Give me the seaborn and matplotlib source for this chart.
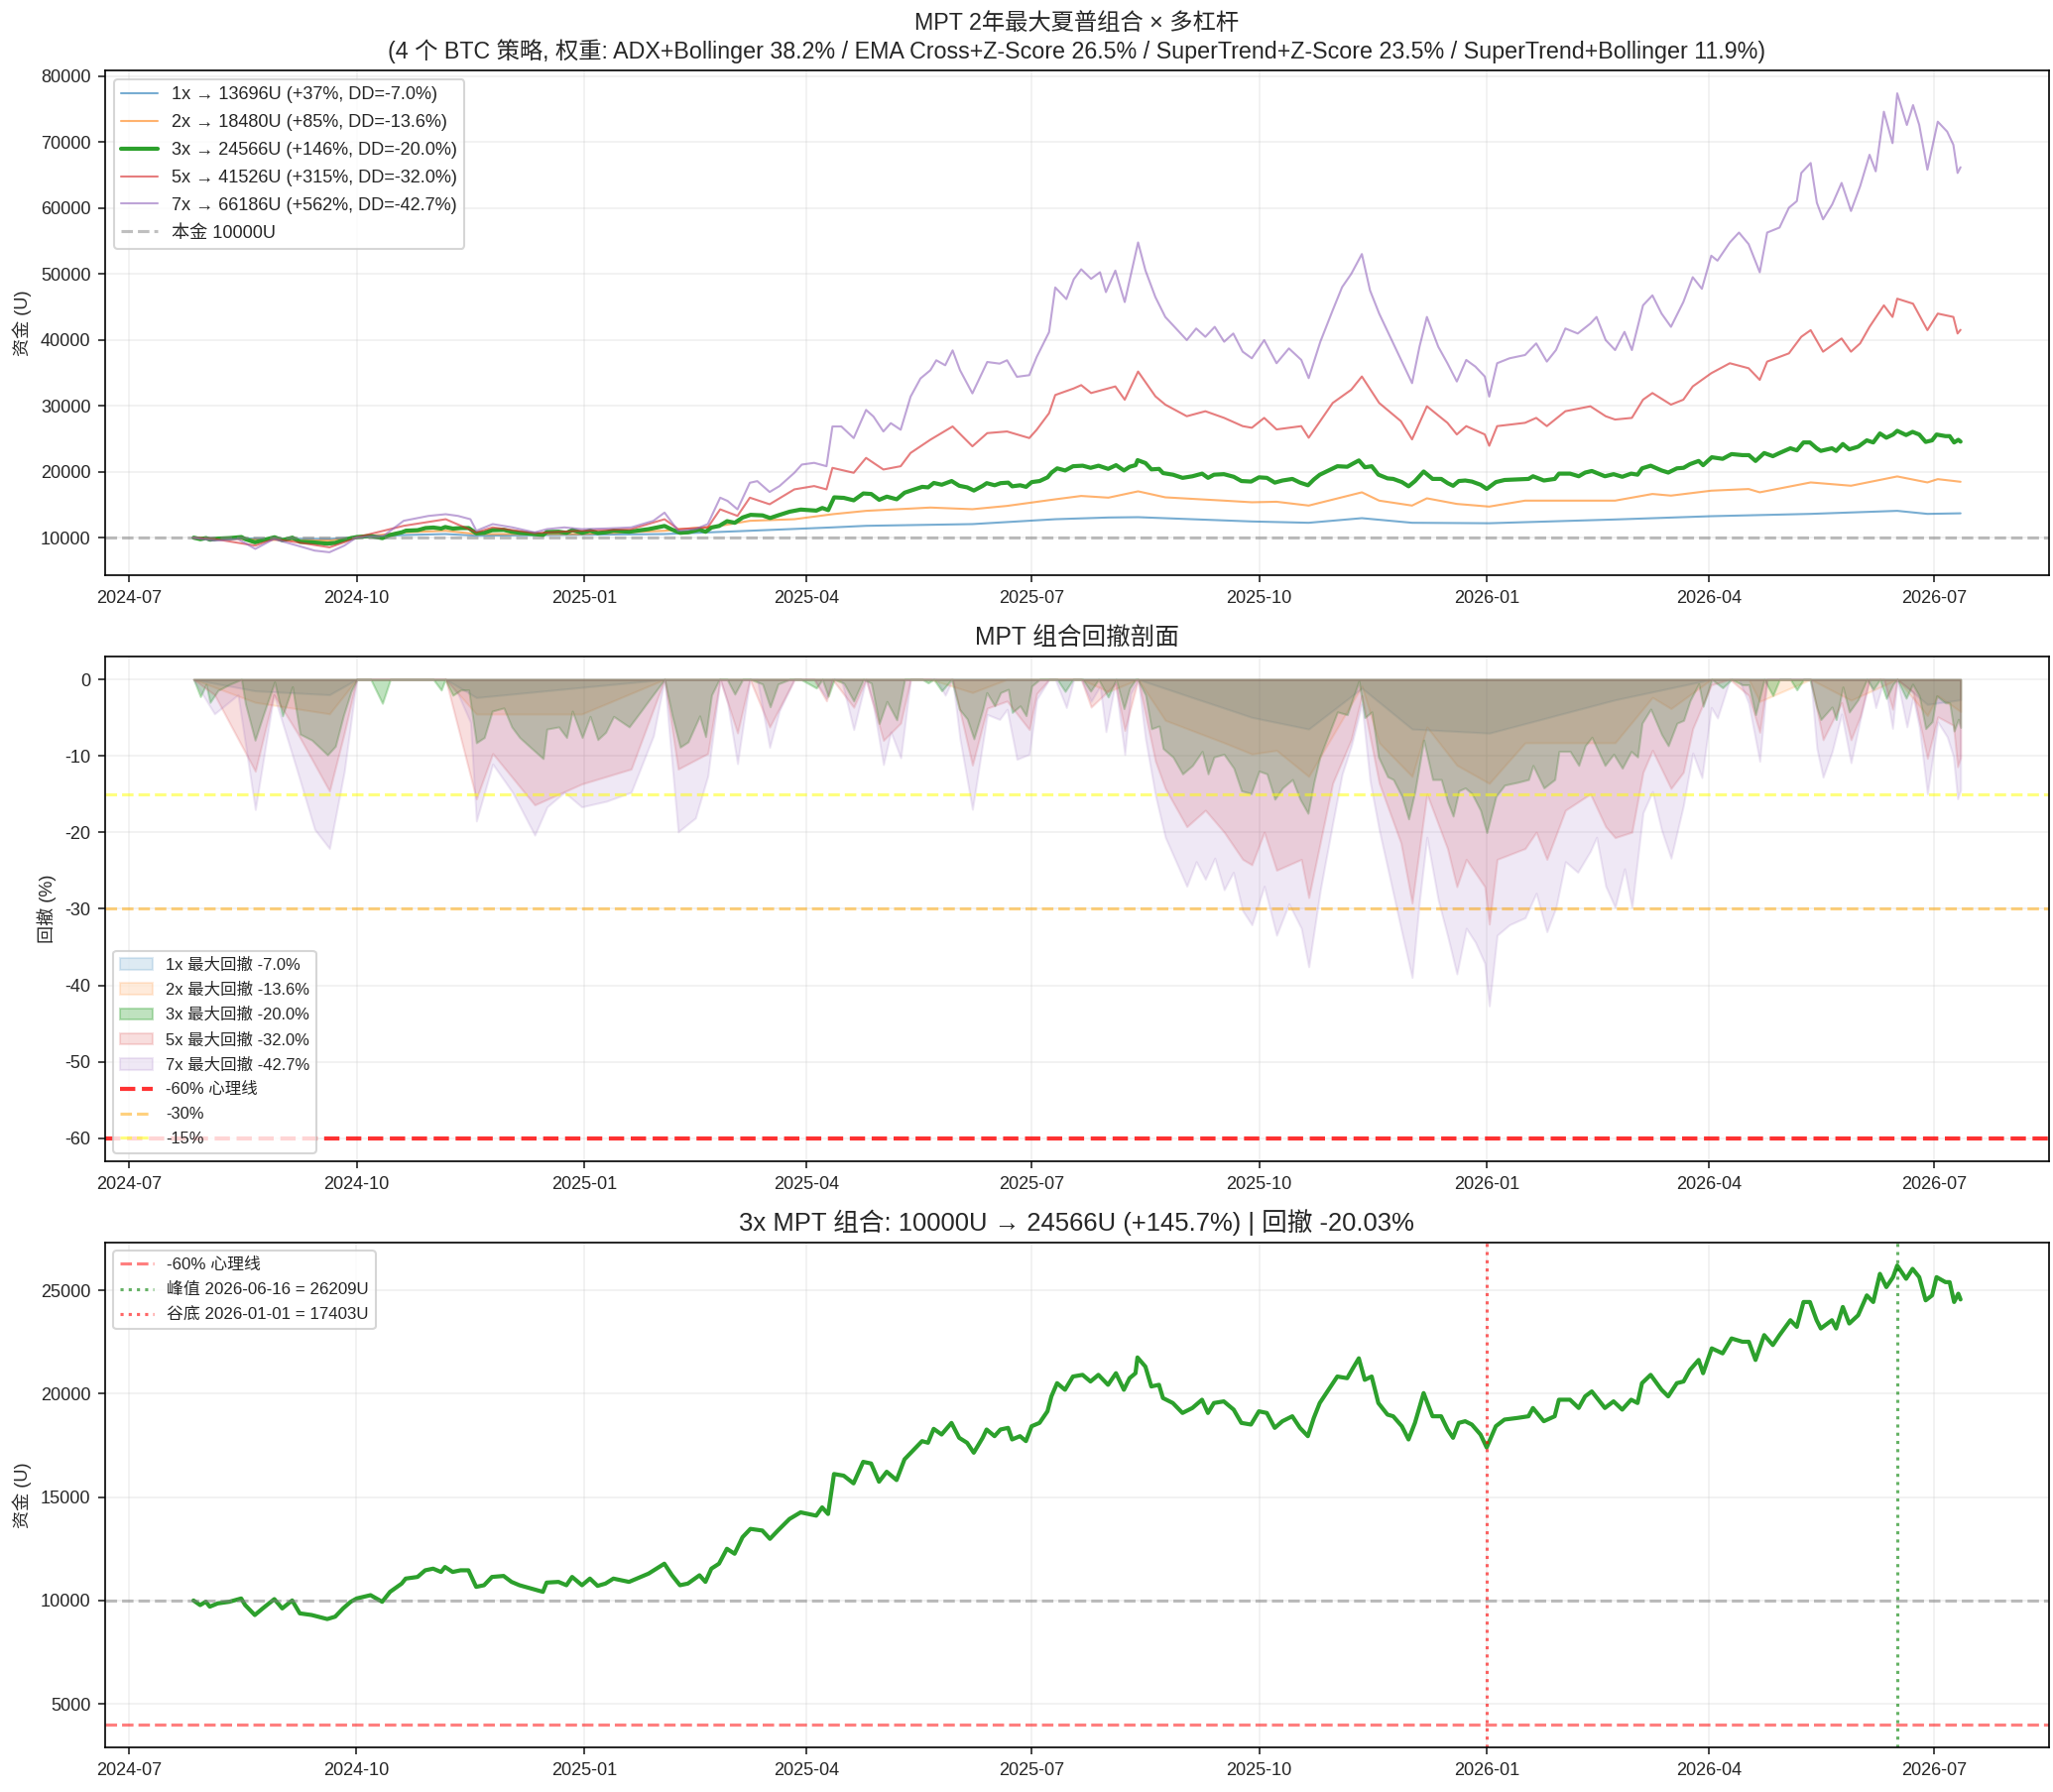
import numpy as np
import pandas as pd
import seaborn as sns
import matplotlib
matplotlib.use("Agg")
import matplotlib.pyplot as plt

sns.set_style("ticks")
plt.rcParams["font.family"] = ["Liberation Sans", "Noto Sans CJK SC", "DejaVu Sans"]
plt.rcParams["axes.unicode_minus"] = False
plt.rcParams["font.size"] = 8.7

# ---------- DATA ----------
START = pd.Timestamp("2024-07-01")   # day offsets below count from here

levs = [1, 2, 3, 5, 7]
finals = [13696, 18480, 24566, 41526, 66186]
rets = [37, 85, 146, 315, 562]
max_dds = [-7.0, -13.6, -20.0, -32.0, -42.7]
colors = ["C0", "C1", "C2", "C3", "C4"]

days_1x = [26, 51, 81, 92, 111, 128, 140.4, 216.5, 251, 284.4, 298, 341, 374.5, 396, 408,
           454, 477, 498.5, 518.8, 550, 600.9, 639.8, 680, 715, 727.2, 740.6]
eq_1x = [10000, 9850, 9800, 10050, 10400, 10550, 10300, 10550, 11050, 11560, 11800, 12060,
         12800, 13060, 13110, 12460, 12260, 12960, 12260, 12190, 12760, 13260, 13610, 14070,
         13610, 13696]

days_2x = [26, 51, 81, 92, 111, 128, 140.4, 183, 216.5, 239, 251, 269, 284.4, 298, 324, 341,
           355, 374.5, 385, 396, 408, 419, 442.8, 454, 464, 477, 498.5, 505.5, 518.8, 524.8,
           536.9, 550, 564.5, 580.8, 600.9, 616, 623.5, 639.8, 654.9, 659.4, 680, 696.3, 715,
           727.2, 731.4, 740.6]
eq_2x = [10000, 9700, 9550, 10050, 10800, 11050, 10550, 10550, 11050, 11800, 12560, 12800,
         13560, 14070, 14570, 14320, 14820, 15820, 16330, 16070, 17030, 16120, 15620, 15370,
         15450, 14870, 16880, 15620, 14870, 15970, 15120, 14715, 15620, 15620, 15620, 16630,
         16380, 17130, 17380, 16880, 18380, 17880, 19290, 18380, 18880, 18480]

days_3x = [26.1, 28.8, 31.1, 32.7, 35.9, 40.6, 45.4, 47.0, 50.9, 54.1, 58.8, 62.0, 66.0, 69.1,
           73.9, 80.2, 83.4, 86.6, 89.7, 92.1, 97.7, 102.4, 105.6, 110.3, 111.9, 116.7, 119.8,
           123.0, 126.2, 127.8, 130.9, 134.1, 137.3, 140.4, 143.6, 146.8, 151.5, 154.7, 157.9,
           162.6, 167.4, 168.9, 173.7, 176.9, 179.2, 183.2, 186.4, 189.5, 192.7, 195.9, 202.2,
           207.0, 210.1, 216.5, 219.6, 222.8, 226.0, 230.7, 233.1, 235.5, 238.6, 241.8, 244.9,
           248.1, 251.3, 256.1, 259.2, 262.4, 267.1,
           271.6, 274.8, 277.9, 280.3, 282.7, 285.1, 289.0, 293.0, 296.9, 300.1, 303.3, 306.4,
           310.4, 313.6, 317.5, 320.7, 323.1, 325.4, 328.6, 332.6, 335.7, 338.9, 341.6, 345.2,
           346.8, 350.0, 352.4, 355.5, 357.1, 360.3, 362.7, 365.0, 368.2, 371.4, 373.0, 375.3,
           378.5, 381.7, 385.6, 388.8, 392.0, 395.9, 399.1, 402.3, 404.6, 407.0, 407.8, 411.0,
           413.4, 416.5, 418.1, 422.1, 426.0, 430.0, 433.9, 436.3, 438.7, 442.7, 446.7, 449.8,
           453.7, 456.9, 460.1, 463.3, 466.4, 470.4, 473.5, 476.7, 479.1, 481.5, 484.6, 488.6,
           492.6, 494.9, 497.3, 499.7, 502.5, 505.2, 508.9,
           511.2, 514.7, 517.4, 520.0, 523.5, 527.1, 530.6, 533.2, 535.4, 537.7, 540.3, 543.0,
           546.5, 549.0, 552.7, 556.2, 561.5, 565.9, 567.7, 572.1, 576.5, 578.2, 582.7, 586.2,
           588.8, 591.5, 596.8, 600.3, 603.8, 607.4, 610.0, 611.8, 615.3, 619.7, 622.4, 625.9,
           628.6, 631.2, 634.7, 636.5, 640.0, 644.4, 648.0, 652.4, 655.0, 657.7, 661.2, 664.7,
           667.4, 671.8, 674.4, 677.1, 679.7, 682.4, 684.1, 688.6, 690.3, 693.0, 695.6, 699.2,
           702.7, 705.3, 708.0, 710.6, 713.3, 715.0, 718.6, 721.2, 723.9, 726.5, 729.1, 730.9,
           734.5, 736.2, 738.0, 739.7, 740.6]
eq_3x = [10000, 9776, 9936, 9700, 9856, 9936, 10096, 9776, 9295, 9615, 10064, 9615, 10000, 9375,
         9295, 9100, 9215, 9615, 9936, 10096, 10256, 9936, 10417, 10817, 11058, 11138, 11459,
         11539, 11379, 11619, 11379, 11459, 11459, 10657, 10737, 11138, 11186, 10898, 10737,
         10577, 10417, 10865, 10898, 10737, 11138, 10737, 11058, 10705, 10817, 11058, 10898,
         11138, 11298, 11779, 11218, 10737, 10817, 11218, 10898, 11539, 11779, 12500, 12260,
         13061, 13463, 13383, 12981, 13383, 13943,
         14264, 14184, 14104, 14504, 14184, 16119, 16039, 15666, 16708, 16628, 15746, 16228,
         15826, 16829, 17310, 17711, 17631, 18304, 18031, 18592, 17871, 17631, 17149, 17871,
         18272, 17951, 18272, 18352, 17791, 17951, 17711, 18432, 18593, 19153, 19875, 20516,
         20195, 20837, 20917, 20596, 20917, 20436, 20997, 20195, 20756, 20997, 21760, 21317,
         20356, 20436, 19795, 19554, 19073, 19314, 19714, 19073, 19554, 19634, 19234, 18592,
         18512, 19153, 19073, 18352, 18673, 18913, 18352, 17951, 18833, 19554, 20115, 20837,
         20756, 21237, 21718, 20676, 20837, 19554, 18993,
         18913, 18432, 17791, 18593, 20035, 18913, 18913, 18272, 17871, 18593, 18673, 18512,
         18031, 17403, 18432, 18753, 18833, 18913, 19314, 18673, 18913, 19714, 19714, 19314,
         19875, 20115, 19314, 19634, 19234, 19714, 19554, 20516, 20917, 20195, 19875, 20516,
         20596, 21157, 21638, 20997, 22199, 21958, 22680, 22520, 22520, 21638, 22840, 22359,
         22840, 23562, 23241, 24443, 24443, 23562, 23161, 23562, 23161, 24203, 23402, 23802,
         24763, 24443, 25806, 25165, 25646, 26209, 25566, 26048, 25646, 24523, 24763, 25646,
         25405, 25405, 24443, 24844, 24566]

days_5x = [26, 34.5, 51, 58.5, 68, 81, 87, 92, 111, 128, 140.4, 147, 164, 183, 203, 216.5, 222,
           234, 239, 246, 251, 259, 269, 277, 282, 284.4, 293, 298, 305, 312, 316, 324, 333, 341,
           347, 355, 364, 367, 372, 374.5, 382, 385, 389, 398.8, 402.6, 408, 415, 419, 427.7,
           435.2, 442.8, 450.3, 454, 459, 464, 474, 477, 486.7, 494.2, 498.5, 505.5, 514.3,
           518.8, 524.8, 533.1, 536.9, 540.7, 548.2, 550, 553.2, 564.5, 569, 573.3, 580.8,
           590.9, 597.1, 600.9, 607.7, 612.2, 616, 623.5, 628.5, 632.3, 639.8, 647.3, 654.9,
           659.4, 662.4, 671.2, 676.2, 680, 685, 692.5, 696.3, 700, 703.8, 709.6, 713.1, 715,
           721.4, 727.2, 731.4, 737.7, 739.4, 740.6]
eq_5x = [10000, 9800, 8800, 9800, 9300, 8540, 9300, 10050, 11800, 12800, 10800, 11560, 10700,
         11050, 11300, 12800, 11300, 11560, 14300, 13300, 16070, 15070, 17330, 17830, 17330,
         20590, 19840, 22100, 20340, 20840, 22850, 24860, 26870, 23860, 25860, 26110, 25110,
         26370, 28880, 31640, 32640, 33140, 31940, 32940, 30930, 35200, 31440, 30180, 28420,
         29180, 28170, 26920, 26670, 28170, 26420, 26920, 25160, 30430, 32440, 34450, 30430,
         27670, 24910, 29930, 27420, 25660, 26920, 25660, 23940, 26920, 27420, 28170, 26920,
         29180, 29930, 28420, 27920, 28170, 30930, 31940, 30180, 30930, 32940, 34950, 36460,
         35700, 33940, 36710, 37960, 40470, 41480, 38210, 40220, 38210, 39470, 41980, 45240,
         43480, 46250, 45490, 41480, 43990, 43480, 40970, 41526]

days_7x = [26, 34.5, 44, 51, 58.5, 68, 75, 81, 87, 92, 103, 111, 121, 128, 133, 138, 140.4, 147,
           155, 164, 169, 176, 183, 193, 203, 212, 216.5, 222, 229, 234, 239, 242, 246, 251, 254,
           259, 263, 269, 272, 277, 282, 284.4, 288, 293, 298, 301, 305, 308, 312, 316, 320, 324,
           326.4, 330, 333, 336, 341, 347, 352, 355, 359, 364, 367, 372, 374.5, 379, 382, 385,
           389, 392.6, 395, 398.8, 402.6, 405, 408, 411, 415, 419, 424, 427.7, 431.5, 435.2, 439,
           442.8, 446.5, 450.3, 454, 459, 464, 469, 474, 477, 481.7, 486.7, 490.5, 494.2, 498.5,
           501.8, 505.5, 509.3, 514.3, 518.8, 521.8, 524.8, 529.4, 533.1, 536.9, 540.7, 544.4,
           548.2, 550, 553.2, 558.2, 564.5, 569, 573.3, 577, 580.8, 585.8, 590.9, 593.4, 597.1,
           600.9, 604.7, 607.7, 612.2, 616, 619.7, 623.5, 628.5, 632.3, 636, 639.8, 642.3,
           647.3, 651, 654.9, 659.4, 662.4, 667.4, 671.2, 674.4, 676.2, 680, 682.5, 685, 688.7,
           692.5, 696.3, 700, 703.8, 706.3, 709.6, 713.1, 715, 718.9, 721.4, 723.9, 727.2,
           731.4, 735.2, 737.7, 739.4, 740.6]
eq_7x = [10000, 9550, 9800, 8300, 9800, 8800, 8040, 7790, 8800, 10050, 10300, 12560, 13300,
         13560, 13300, 12800, 11050, 12060, 11560, 10800, 11300, 11560, 11300, 11400, 11560,
         12560, 13800, 11050, 11300, 12060, 16070, 15570, 14300, 18330, 18580, 16930, 17830,
         19840, 21090, 21350, 20840, 26870, 26870, 25110, 29380, 28370, 26110, 27370, 26370,
         31390, 34150, 35400, 36910, 36150, 38410, 35400, 31890, 36650, 36400, 36910, 34400,
         34650, 37410, 41170, 47950, 46190, 49200, 50710, 49260, 50260, 47250, 50510, 45740,
         49760, 54780, 50510, 46490, 43480, 41470, 39970, 41730, 40470, 41980, 39720, 40970,
         38210, 37210, 39970, 36460, 38710, 36960, 34200, 39720, 44490, 48000, 50010, 53020,
         47500, 43990, 40970, 36960, 33440, 38960, 43480, 38960, 36460, 33690, 36960, 35950,
         34450, 31400, 36460, 37210, 37710, 39470, 36710, 38460, 41730, 40970, 42480, 43480,
         39970, 38460, 41220, 38460, 45240, 46750, 43990, 41980, 45740, 49510, 47750, 52770,
         52020, 54780, 56280, 54530, 50260, 56280, 57040, 60050, 61050, 65320, 66830, 60800,
         58290, 60550, 63810, 59550, 63310, 68080, 65570, 74610, 69840, 77400, 72600, 75610,
         72600, 65820, 73100, 71590, 69590, 65320, 66186]

CAPITAL = 10000
peak_date, peak_val = "2026-06-16", 26209
trough_date, trough_val = "2026-01-01", 17403
title_3x = "3x MPT 组合: 10000U → 24566U (+145.7%) | 回撤 -20.03%"
suptitle = ("MPT 2年最大夏普组合 × 多杠杆\n"
            "(4 个 BTC 策略, 权重: ADX+Bollinger 38.2% / EMA Cross+Z-Score 26.5% / "
            "SuperTrend+Z-Score 23.5% / SuperTrend+Bollinger 11.9%)")

series = {1: (days_1x, eq_1x), 2: (days_2x, eq_2x), 3: (days_3x, eq_3x),
          5: (days_5x, eq_5x), 7: (days_7x, eq_7x)}
curves = {}
for lev, (d, v) in series.items():
    assert len(d) == len(v), (lev, len(d), len(v))
    curves[lev] = pd.Series(v, index=START + pd.to_timedelta(d, unit="D"), dtype=float)

# ---------- FIGURE ----------
fig, axes = plt.subplots(3, 1, figsize=(13.8, 12.047), dpi=150)
fig.subplots_adjust(left=0.0512, right=0.998, top=0.9607, bottom=0.0249, hspace=0.161)

# 1. equity curves
ax = axes[0]
for lev, fin, r, dd, c in zip(levs, finals, rets, max_dds, colors):
    s = curves[lev]
    thick = lev == 3
    sns.lineplot(x=s.index, y=s.values, ax=ax, color=c,
                 lw=2 if thick else 1, alpha=1 if thick else 0.6,
                 label=f"{lev}x → {fin}U (+{r}%, DD={dd:.1f}%)",
                 estimator=None, errorbar=None)
ax.axhline(CAPITAL, color="gray", ls="--", alpha=0.5, lw=1.5, label=f"本金 {CAPITAL}U")
ax.set_title(suptitle, fontsize=11.2)
ax.set_ylabel("资金 (U)")
ax.legend(loc="upper left", fontsize=8.7, labelspacing=0.6)
ax.grid(True, alpha=0.3)

# 2. drawdown profile
ax = axes[1]
for lev, dd, c in zip(levs, max_dds, colors):
    s = curves[lev]
    draw = (s / s.cummax() - 1) * 100
    ax.fill_between(draw.index, draw.values, 0, color=c,
                    alpha=0.3 if lev == 3 else 0.15,
                    label=f"{lev}x 最大回撤 {dd:.1f}%")
ax.axhline(-60, color="red", ls="--", lw=2, alpha=0.8, label="-60% 心理线")
ax.axhline(-30, color="orange", ls="--", lw=1.5, alpha=0.5, label="-30%")
ax.axhline(-15, color="yellow", ls="--", lw=1.5, alpha=0.5, label="-15%")
ax.set_title("MPT 组合回撤剖面", fontsize=11.8)
ax.set_ylabel("回撤 (%)")
ax.legend(loc="lower left", fontsize=7.9, labelspacing=0.6)
ax.grid(True, alpha=0.3)

# 3. 3x detail
ax = axes[2]
s3 = curves[3]
sns.lineplot(x=s3.index, y=s3.values, ax=ax, color="C2", lw=2,
             estimator=None, errorbar=None)
ax.axhline(CAPITAL, color="gray", ls="--", alpha=0.5, lw=1.5)
ax.axhline(CAPITAL * 0.4, color="red", ls="--", alpha=0.5, lw=1.5, label="-60% 心理线")
ax.axvline(pd.Timestamp(peak_date), color="green", ls=":", alpha=0.6, lw=1.5,
           label=f"峰值 {peak_date} = {peak_val}U")
ax.axvline(pd.Timestamp(trough_date), color="red", ls=":", alpha=0.6, lw=1.5,
           label=f"谷底 {trough_date} = {trough_val}U")
ax.set_title(title_3x, fontsize=12.3)
ax.set_ylabel("资金 (U)")
ax.legend(loc="upper left", fontsize=8.1, labelspacing=0.6)
ax.grid(True, alpha=0.3)

for a in axes:
    a.set_xlabel("")
    for sp in a.spines.values():
        sp.set_color("black")

fig.savefig("out.png", dpi=150)
